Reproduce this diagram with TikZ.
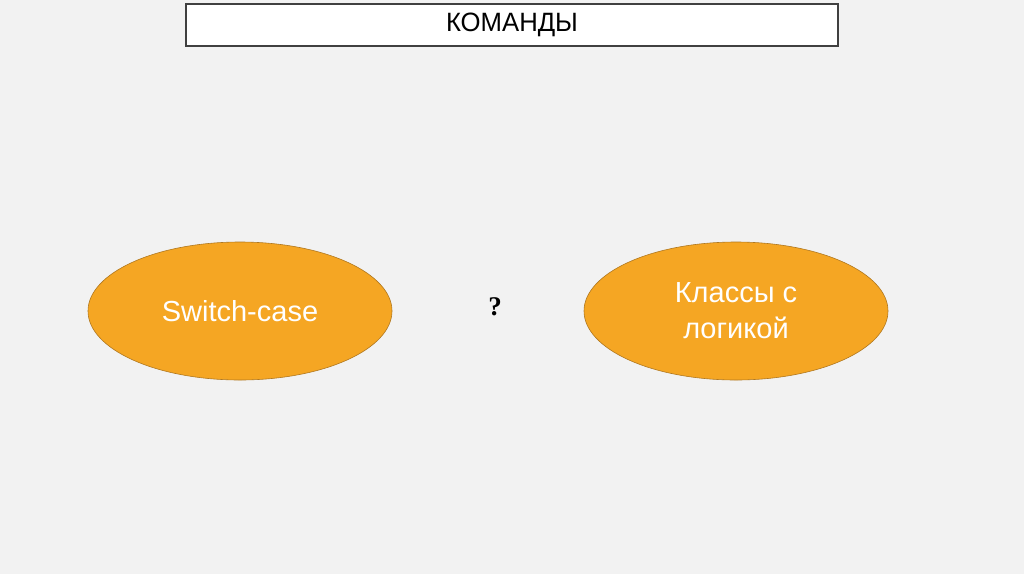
\documentclass[tikz,border=0pt]{standalone}
\usepackage{fontspec}
\setmainfont{Liberation Sans}
\newfontfamily\narrowfont[FakeStretch=0.97]{Liberation Sans}
\newfontfamily\qfont{Liberation Serif}
\usetikzlibrary{shapes.geometric,positioning}
\definecolor{SlideGray}{RGB}{242,242,242}
\definecolor{FrameGray}{RGB}{64,64,64}
\definecolor{OvalOrange}{RGB}{245,166,35}
\definecolor{OvalEdge}{RGB}{176,120,32}

\begin{document}
\begin{tikzpicture}[x=1pt,y=-1pt,
        title/.style={draw=FrameGray,fill=white,line width=2.5pt,
                      minimum width=652pt,minimum height=42pt,
                      font=\narrowfont\fontsize{26.5}{30}\selectfont},
        oval/.style={ellipse,draw=OvalEdge,fill=OvalOrange,line width=0.6pt,
                     minimum width=304pt,minimum height=138pt,inner sep=0pt,
                     text=white,align=center,
                     font=\fontsize{29}{36}\selectfont}
      ]
        \fill[SlideGray] (0,0) rectangle (1024,574);
        \useasboundingbox (0,0) rectangle (1024,574);
        \node[title] (T) at (512,25) {КОМАНДЫ};
        \node[oval] (SW) at (240,311) {Switch-case};
        \node[oval] (KL) at (736,311) {Классы с\\логикой};
        \node[font=\qfont\bfseries\fontsize{27}{30}\selectfont] (Q) at (495,307) {?};
      \end{tikzpicture}
\end{document}
